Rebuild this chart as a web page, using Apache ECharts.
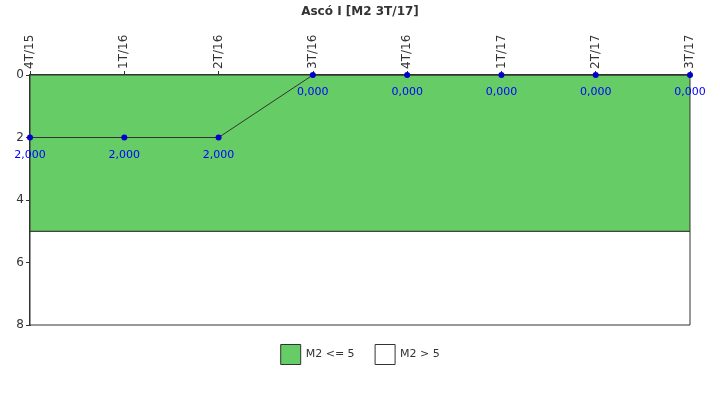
<!DOCTYPE html>
<html>
<head>
<meta charset="utf-8">
<script src="https://cdn.jsdelivr.net/npm/echarts@6/dist/echarts.min.js"></script>
<style>html,body{margin:0;padding:0;background:#fff}#c{width:720px;height:400px}</style>
</head>
<body>
<div id="c"></div>
<script>
var categories = ['4T/15','1T/16','2T/16','3T/16','4T/16','1T/17','2T/17','3T/17'];
var values = [2, 2, 2, 0, 0, 0, 0, 0];
var bandLimit = 5;
var yMax = 8;
var yTickInterval = 2;
var titleText = 'Ascó I [M2 3T/17]';
var legendNames = ['M2 <= 5', 'M2 > 5'];

var font = 'DejaVu Sans';
var chart = echarts.init(document.getElementById('c'), null, {renderer: 'canvas'});
chart.setOption({
  animation: false,
  backgroundColor: '#fff',
  title: {
    text: titleText, left: 'center', top: 1,
    textStyle: {fontFamily: font, fontSize: 12, fontWeight: 'bold', color: '#333'}
  },
  legend: {
    bottom: 30, left: 'center', itemWidth: 20, itemHeight: 20, itemGap: 20,
    selectedMode: false, icon: 'rect',
    textStyle: {fontFamily: font, fontSize: 11, color: '#333'},
    data: [
      {name: legendNames[0], itemStyle: {color: '#66cc66', borderColor: '#333', borderWidth: 1}},
      {name: legendNames[1], itemStyle: {color: '#ffffff', borderColor: '#333', borderWidth: 1}}
    ]
  },
  grid: {left: 30, right: 30, top: 75, bottom: 75, containLabel: false},
  xAxis: {
    type: 'category', data: categories, boundaryGap: false, position: 'top',
    axisLine: {lineStyle: {color: '#333', width: 2}},
    axisTick: {alignWithLabel: true, length: 4, lineStyle: {color: '#333'}},
    axisLabel: {rotate: 90, fontFamily: font, fontSize: 12, color: '#333', margin: 6, interval: 0},
    splitLine: {show: false}
  },
  yAxis: {
    type: 'value', inverse: true, min: 0, max: yMax, interval: yTickInterval,
    axisLine: {show: true, lineStyle: {color: '#333', width: 2}},
    axisTick: {show: true, length: 4, lineStyle: {color: '#333'}},
    axisLabel: {fontFamily: font, fontSize: 12, color: '#333', margin: 6},
    splitLine: {show: false}
  },
  series: [
    {
      name: legendNames[1], type: 'line', data: [], silent: true,
      markArea: {silent: true, itemStyle: {color: '#ffffff', borderColor: '#333', borderWidth: 1},
        data: [[{xAxis: categories[0], yAxis: bandLimit}, {xAxis: categories[categories.length-1], yAxis: yMax}]]}
    },
    {
      name: legendNames[0], type: 'line', data: [], silent: true,
      markArea: {silent: true, itemStyle: {color: '#66cc66', borderColor: '#333', borderWidth: 1},
        data: [[{xAxis: categories[0], yAxis: 0}, {xAxis: categories[categories.length-1], yAxis: bandLimit}]]}
    },
    {
      name: 'M2', type: 'line', data: values, z: 5,
      symbol: 'circle', symbolSize: 6,
      lineStyle: {color: '#333', width: 1},
      itemStyle: {color: '#0000cc'},
      label: {show: true, position: 'bottom', distance: 9, color: '#0000ff', fontFamily: font, fontSize: 11,
        formatter: function (p) { return p.value.toFixed(3).replace('.', ','); }}
    }
  ]
});
</script>
</body>
</html>
